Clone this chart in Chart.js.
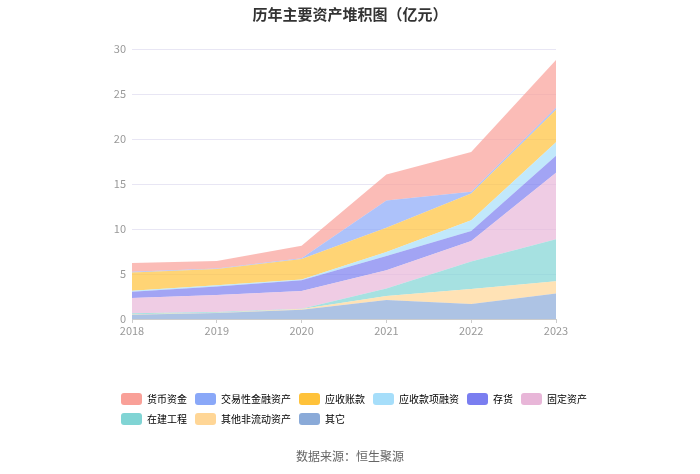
<!DOCTYPE html>
<html>
<head>
<meta charset="utf-8">
<script src="https://cdn.jsdelivr.net/npm/chart.js@4/dist/chart.umd.min.js"></script>
<style>
  html, body { margin: 0; padding: 0; background: #fff; }
  #wrap { position: relative; width: 700px; height: 474px; font-family: "Noto Sans CJK SC", "Noto Sans", sans-serif; }
  #titulo { position: absolute; left: 0; width: 700px; top: 3px; text-align: center; font-size: 15px; font-weight: bold; color: #333; }
  #fonte { position: absolute; left: 0; width: 700px; top: 447px; text-align: center; font-size: 12px; color: #666; }
  #grafico { position: absolute; left: 0; top: 0; }
</style>
</head>
<body>
<div id="wrap">
  <canvas id="grafico" width="700" height="474"></canvas>
  <div id="titulo">历年主要资产堆积图（亿元）</div>
  <div id="fonte">数据来源：恒生聚源</div>
</div>
<script>
// anos e valores (empilhados de baixo para cima)
const anos = ["2018", "2019", "2020", "2021", "2022", "2023"];
const yTicks = [0, 5, 10, 15, 20, 25, 30];

const qiTa = [0.48, 0.67, 1.04, 2.10, 1.66, 2.84];          // 其它
const qiTaFeiLiuDong = [0.05, 0.02, 0.06, 0.45, 1.66, 1.36]; // 其他非流动资产
const zaiJian = [0.12, 0.09, 0.05, 0.85, 3.06, 4.66];        // 在建工程
const guDing = [1.68, 1.89, 1.95, 2.02, 2.29, 7.38];         // 固定资产
const cunHuo = [0.71, 0.93, 1.20, 1.58, 1.11, 1.91];         // 存货
const yingShouRongZi = [0.11, 0.14, 0.10, 0.45, 1.18, 1.48]; // 应收款项融资
const yingShou = [2.03, 1.82, 2.27, 2.70, 2.99, 3.62];       // 应收账款
const jiaoYi = [0.08, 0.04, 0.07, 3.02, 0.18, 0.22];         // 交易性金融资产
const huoBi = [0.96, 0.84, 1.41, 2.88, 4.43, 5.31];          // 货币资金

const series = [
  { label: "其它", data: qiTa, cor: "138,170,216" },
  { label: "其他非流动资产", data: qiTaFeiLiuDong, cor: "255,214,150" },
  { label: "在建工程", data: zaiJian, cor: "128,212,212" },
  { label: "固定资产", data: guDing, cor: "232,182,216" },
  { label: "存货", data: cunHuo, cor: "122,126,240" },
  { label: "应收款项融资", data: yingShouRongZi, cor: "166,222,250" },
  { label: "应收账款", data: yingShou, cor: "255,194,58" },
  { label: "交易性金融资产", data: jiaoYi, cor: "138,168,248" },
  { label: "货币资金", data: huoBi, cor: "249,160,152" },
];

const fonte = "'Noto Sans CJK SC', 'Noto Sans', sans-serif";

new Chart(document.getElementById("grafico"), {
  type: "line",
  data: {
    labels: anos,
    datasets: series.map((s, i) => ({
      label: s.label,
      data: s.data,
      fill: i === 0 ? "origin" : "-1",
      backgroundColor: "rgba(" + s.cor + ",0.7)",
      borderColor: "rgba(" + s.cor + ",0.7)",
      borderWidth: 0,
      pointRadius: 0,
      tension: 0,
      solido: "rgb(" + s.cor + ")",
    })),
  },
  options: {
    responsive: false,
    animation: false,
    layout: { padding: { top: 49, left: 113, right: 77, bottom: 39 } },
    plugins: {
      title: { display: false },
      tooltip: { enabled: false },
      legend: {
        position: "bottom",
        align: "start",
        reverse: true,
        labels: {
          boxWidth: 21,
          boxHeight: 12,
          padding: 8,
          useBorderRadius: true,
          borderRadius: 3,
          color: "#555",
          font: { family: fonte, size: 10 },
          generateLabels(chart) {
            return chart.data.datasets.map((ds, i) => ({
              text: ds.label,
              fillStyle: ds.solido,
              strokeStyle: ds.solido,
              lineWidth: 0,
              hidden: false,
              datasetIndex: i,
              borderRadius: 3,
            }));
          },
        },
      },
    },
    scales: {
      x: {
        offset: false,
        grid: { display: true, drawOnChartArea: false, drawTicks: true, tickLength: 4, tickColor: "#ccc" },
        border: { color: "#ccc" },
        ticks: { color: "#999", font: { family: fonte, size: 11 }, padding: 1 },
        afterFit(scale) { scale.height = 66; },
      },
      y: {
        stacked: true,
        min: 0,
        max: 30,
        afterBuildTicks(scale) { scale.ticks = yTicks.map(v => ({ value: v })); },
        grid: { color: "#e8e6f4", drawTicks: false },
        border: { display: false },
        ticks: { color: "#999", font: { family: fonte, size: 11 }, padding: 6 },
        afterFit(scale) { scale.width = 19; },
      },
      margemDireita: {
        type: "linear",
        position: "right",
        display: true,
        grid: { display: false },
        border: { display: false },
        ticks: { display: false },
        afterFit(scale) { scale.width = 67; },
      },
    },
  },
});
</script>
</body>
</html>
